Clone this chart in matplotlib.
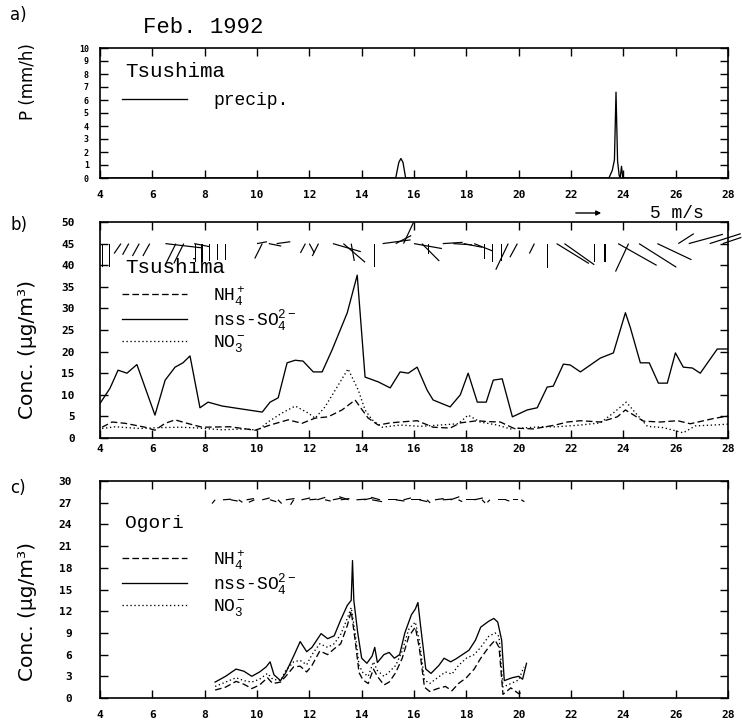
import matplotlib
matplotlib.use("Agg")
import matplotlib.pyplot as plt

plt.rcParams['mathtext.fontset'] = 'custom'
plt.rcParams['mathtext.rm'] = 'Liberation Mono'
plt.rcParams['mathtext.it'] = 'Liberation Mono'

# ---------------- data ----------------
day_ticks = [4, 6, 8, 10, 12, 14, 16, 18, 20, 22, 24, 26, 28]

# a) precipitation at Tsushima (mm/h)
precip_day = [4.0, 15.3, 15.42, 15.5, 15.58, 15.68, 23.45, 23.58, 23.66, 23.72, 23.78, 23.84, 23.88, 23.93, 23.98, 28.0]
precip_val = [0, 0, 1.2, 1.5, 1.2, 0, 0, 0.6, 1.4, 6.6, 1.3, 0.2, 0, 0.9, 0, 0]

# b) Tsushima concentrations (ug/m3)
tsu_so4_day = [4.0, 4.38, 4.69, 5.03, 5.41, 6.10, 6.49, 6.87, 7.17, 7.44, 7.82, 8.13, 8.67, 9.43, 10.2,
               10.5, 10.81, 11.15, 11.46, 11.76, 12.15, 12.49, 12.87, 13.45, 13.83, 14.13, 14.63, 15.09,
               15.47, 15.78, 16.12, 16.5, 16.73, 17.38, 17.77, 18.07, 18.42, 18.76, 19.03, 19.37, 19.76,
               20.33, 20.71, 21.09, 21.32, 21.71, 21.97, 22.36, 23.12, 23.62, 24.08, 24.27, 24.65, 24.99,
               25.34, 25.68, 25.99, 26.29, 26.64, 26.94, 27.59, 28.0]
tsu_so4 = [8, 11.5, 15.7, 15, 17, 5.3, 13.4, 16.4, 17.4, 19, 7, 8.3, 7.4, 6.7, 6,
           8.3, 9.3, 17.4, 18, 17.8, 15.3, 15.3, 20.4, 29, 37.7, 14.1, 13, 11.6,
           15.3, 15, 16.4, 11.1, 8.8, 7.2, 10, 15, 8.3, 8.3, 13.4, 13.7, 4.9,
           6.5, 7, 11.8, 12, 17.1, 16.9, 15.3, 18.5, 19.7, 29, 25.5, 17.4, 17.4,
           12.7, 12.7, 19.7, 16.4, 16.2, 15, 20.6, 20.6]

tsu_nh4_day = [4.08, 4.46, 4.96, 5.72, 6.1, 6.49, 6.87, 7.33, 7.9, 8.97, 9.93, 10.5, 11.19, 11.72, 12.22,
               12.72, 13.25, 13.75, 14.02, 14.25, 14.63, 15.09, 15.47, 16.12, 16.73, 17.38, 17.77, 18.42,
               18.8, 19.3, 19.79, 20.56, 21.4, 21.86, 22.36, 23.12, 23.77, 24.08, 24.77, 25.41, 26.07,
               26.56, 27.44, 28.0]
tsu_nh4 = [2.5, 3.7, 3.4, 2.5, 1.8, 3.4, 4.2, 3.4, 2.5, 2.6, 1.8, 3.0, 4.2, 3.4, 4.6,
           4.9, 6.5, 8.8, 6.5, 4.6, 3.0, 3.5, 3.7, 4.0, 2.5, 2.3, 3.5, 4.0,
           3.8, 3.7, 2.3, 2.1, 3.0, 3.7, 4.0, 3.7, 4.9, 6.5, 3.9, 3.7, 4.0,
           3.3, 4.5, 5.1]

tsu_no3_day = [4.08, 4.57, 5.53, 6.29, 7.06, 7.82, 8.67, 9.55, 10.04, 10.42, 10.96, 11.46, 11.95, 12.22,
               12.6, 12.99, 13.48, 13.87, 14.13, 14.4, 14.78, 15.47, 16.24, 17.0, 17.69, 18.07, 18.53,
               19.18, 19.68, 20.83, 21.48, 22.36, 23.12, 23.62, 24.11, 24.54, 24.92, 25.53, 26.29,
               26.75, 27.44, 28.0]
tsu_no3 = [2.2, 2.6, 2.2, 2.4, 2.5, 2.3, 1.9, 2.1, 1.8, 3.7, 5.8, 7.4, 5.8, 4.6,
           7.2, 11.1, 16, 11.1, 6.5, 4.2, 2.5, 3.0, 2.7, 3.0, 3.3, 5.3, 3.7,
           3.0, 2.1, 2.6, 2.6, 3.0, 3.5, 5.8, 8.3, 5.3, 2.7, 2.4, 1.2,
           2.8, 3.0, 3.2]

# b) wind sticks at Tsushima (m/s)
wind_b_day = [4.1, 4.35, 4.8, 5.1, 5.5, 5.9, 6.5, 6.9, 7.2, 7.6, 7.65, 7.9, 8.2, 8.5, 8.8, 10.0, 10.2,
              10.45, 10.75, 11.85, 12.0, 12.35, 12.9, 13.3, 13.6, 14.5, 14.8, 15.3, 15.6, 16.0, 16.3,
              16.55, 17.1, 17.5, 17.9, 18.3, 18.7, 19.0, 19.35, 19.6, 19.95, 20.6, 21.1, 21.45, 21.75,
              22.9, 23.3, 23.8, 24.2, 24.6, 25.3, 26.1, 26.5, 27.3, 27.8]
wind_b_u = [0, 0, -1.1, -1.0, -1.1, -1.1, 6.0, -1.6, -1.6, 2.5, 0, 0, 0, 0, 0, 1.6, -1.2,
            2.0, 2.2, -0.8, 0.8, -1.0, 4.5, 3.5, 0.5, 0, 4.5, 2.5, 1.6, 4.5, 2.8,
            0, 3.2, 3.0, 3.0, 3.0, 0, 0, 0, -2.0, -1.2, -0.8, 0, 5.2, 4.8,
            0, 0, 6.2, -2.1, 6.0, 5.5, 2.5, 5.5, 5.0, 3.0]
wind_b_v = [-3.8, -3.8, -1.6, -1.8, -2.0, -2.0, -0.7, -3.2, -3.2, -0.5, -3.0, -3.0, -2.8, -2.6, -2.6, 0.3, -2.4,
            -0.4, 0.3, -1.5, -1.5, -2.0, -1.3, -3.0, -2.8, -3.7, 0.6, 1.3, 3.4, -0.8, -2.8,
            -1.6, 0.2, -0.2, -0.6, -1.2, -2.4, -3.0, -2.8, -4.2, -2.2, -1.6, -4.0, -3.2, -3.4,
            -3.0, -3.0, -3.5, -4.5, -3.8, -2.6, 1.6, 1.5, 1.6, 1.0]

# c) Ogori concentrations (ug/m3)
ogo_so4_day = [8.4, 8.8, 9.2, 9.5, 9.8, 10.1, 10.35, 10.5, 10.65, 10.9, 11.1, 11.4, 11.65, 11.9, 12.1,
               12.45, 12.7, 12.95, 13.2, 13.45, 13.6, 13.65, 13.7, 13.85, 14.0, 14.2, 14.4, 14.5, 14.6,
               14.85, 15.05, 15.25, 15.45, 15.65, 15.9, 16.05, 16.15, 16.25, 16.45, 16.65, 16.95, 17.15,
               17.4, 17.6, 17.85, 18.1, 18.35, 18.55, 18.85, 19.05, 19.2, 19.35, 19.45, 19.75, 20.0,
               20.15, 20.3]
ogo_so4 = [2.2, 3.0, 4.0, 3.7, 3.0, 3.6, 4.3, 5.0, 3.2, 2.4, 3.5, 5.8, 7.8, 6.4, 7.0,
           8.9, 8.2, 8.6, 10.8, 12.8, 13.5, 19.0, 13.5, 9.0, 5.5, 4.8, 5.8, 7.0, 4.9,
           6.0, 6.3, 5.5, 6.0, 9.0, 11.5, 12.3, 13.2, 10.0, 4.0, 3.4, 4.5, 5.5,
           5.0, 5.4, 6.0, 6.6, 8.0, 9.8, 10.6, 11.0, 10.5, 8.0, 2.4, 2.8, 3.0,
           2.6, 4.8]

ogo_nh4_day = [8.4, 8.8, 9.2, 9.5, 9.8, 10.1, 10.4, 10.6, 10.9, 11.1, 11.4, 11.65, 11.9, 12.1, 12.4,
               12.7, 12.95, 13.2, 13.45, 13.6, 13.75, 13.9, 14.05, 14.25, 14.45, 14.6, 14.85, 15.05,
               15.3, 15.55, 15.8, 16.05, 16.2, 16.4, 16.6, 16.9, 17.2, 17.45, 17.7, 18.0, 18.3, 18.55,
               18.85, 19.1, 19.25, 19.4, 19.7, 20.0, 20.15]
ogo_nh4 = [1.1, 1.5, 2.3, 1.9, 1.3, 1.8, 2.8, 2.0, 2.2, 3.0, 4.3, 4.4, 3.6, 4.5, 6.5,
           6.0, 6.8, 7.5, 10.0, 12.0, 8.0, 3.5, 2.5, 2.0, 4.0, 3.0, 1.8, 2.2,
           3.5, 5.5, 8.5, 9.8, 7.0, 1.5, 0.9, 1.3, 1.6, 1.0, 2.0, 2.8, 4.0, 5.5,
           7.0, 8.0, 7.0, 0.5, 1.4, 0.6, 0.8]

ogo_no3_day = [8.4, 8.8, 9.2, 9.5, 9.8, 10.1, 10.4, 10.6, 10.9, 11.1, 11.4, 11.65, 11.9, 12.1, 12.4,
               12.7, 12.95, 13.2, 13.45, 13.6, 13.75, 13.9, 14.05, 14.25, 14.45, 14.6, 14.85, 15.05,
               15.3, 15.55, 15.8, 16.05, 16.2, 16.4, 16.6, 16.9, 17.2, 17.45, 17.7, 18.0, 18.3, 18.55,
               18.85, 19.1, 19.25, 19.4, 19.7, 20.0, 20.2]
ogo_no3 = [1.6, 2.2, 2.8, 2.4, 2.2, 2.6, 3.4, 2.6, 2.4, 3.8, 5.0, 5.2, 4.6, 6.0, 7.5,
           7.0, 7.5, 8.8, 11.0, 12.5, 9.0, 4.5, 3.5, 3.0, 5.0, 3.8, 3.0, 3.6,
           4.5, 6.5, 9.5, 10.5, 8.0, 2.5, 2.0, 2.8, 3.6, 3.3, 4.5, 5.5, 6.0, 7.0,
           8.5, 9.0, 8.5, 1.5, 2.0, 2.5, 4.3]

# c) wind sticks at Ogori (m/s)
wind_c_day = [8.4, 8.7, 9.0, 9.3, 9.6, 9.9, 10.2, 10.5, 10.8, 11.1, 11.4, 11.7, 12.0, 12.3, 12.6, 12.9,
              13.2, 13.5, 13.8, 14.1, 14.4, 14.7, 15.0, 15.3, 15.6, 15.9, 16.2, 16.5, 16.8, 17.1,
              17.4, 17.7, 18.0, 18.3, 18.6, 18.9, 19.2, 19.5, 19.8, 20.1]
wind_c_u = [-0.5, 1.3, 1.1, 0.6, 1.2, -0.9, 1.2, 1.0, 0.6, 1.4, -0.5, 1.4, 1.2, 1.3, 0.9, 1.5,
            1.4, -1.5, 1.5, 1.3, 1.6, -1.4, 1.5, 1.4, 1.2, 1.5, 1.3, 0.5, 1.4, 1.5,
            1.4, 0.6, 1.5, 1.4, 0.5, -0.4, 1.3, 0.6, 0.8, 0.5]
wind_c_v = [-0.6, 0.1, -0.2, -0.4, 0.2, -0.4, 0.3, -0.3, -0.6, 0.2, -0.8, 0.3, 0.1, 0.4, -0.2, 0.3,
            0.2, 0.5, 0.1, 0.3, -0.3, 0.4, 0.0, -0.2, 0.3, 0.0, -0.3, -0.5, 0.2, 0.1,
            0.5, -0.3, 0.0, 0.3, -0.5, -0.4, 0.0, -0.2, 0.0, -0.3]

# ---------------- figure ----------------
W, H = 742, 724
fig = plt.figure(figsize=(W / 100, H / 100), dpi=100)
ax_a = fig.add_axes([100 / W, 1 - 178 / H, 628 / W, 130 / H])
ax_b = fig.add_axes([100 / W, 1 - 438 / H, 628 / W, 216 / H])
ax_c = fig.add_axes([100 / W, 1 - 698 / H, 628 / W, 217 / H])

txt_font = 'Liberation Mono'
lw = 0.95
nh4_style = dict(color='black', lw=lw, dashes=(5, 2.5))
so4_style = dict(color='black', lw=lw, ls='-')
no3_style = dict(color='black', lw=lw, dashes=(1, 2))


def style(ax, ylim, yticks, ypad, xpad, ysize):
    ax.set_xlim(4, 28)
    ax.set_ylim(*ylim)
    ax.set_xticks(day_ticks)
    ax.set_yticks(yticks)
    ax.tick_params(direction='in', top=True, right=True, length=6, width=1.0)
    ax.tick_params(axis='x', pad=xpad, labelsize=8)
    ax.tick_params(axis='y', pad=ypad, labelsize=ysize)
    for sp in ax.spines.values():
        sp.set_linewidth(1.2)
    for lab in ax.get_xticklabels() + ax.get_yticklabels():
        lab.set_fontfamily('DejaVu Sans Mono')
        lab.set_fontweight('bold')


def sticks(ax, days, base, u, v):
    ax.quiver(days, [base] * len(days), u, v, angles='uv', scale_units='inches', scale=16.1,
              pivot='tail', headwidth=0, headlength=0, headaxislength=0,
              units='dots', width=1.2, color='black', clip_on=False)


def legend(ax, top, size, spacing):
    ax.legend(loc='upper left', bbox_to_anchor=(0.035, top), frameon=False,
              handlelength=3.6, handletextpad=1.45, borderpad=0, borderaxespad=0,
              labelspacing=spacing, prop={'family': txt_font, 'size': size})


# a) precipitation
ax_a.plot(precip_day, precip_val, color='black', lw=lw, label='precip.')
style(ax_a, (0, 10), list(range(0, 11)), 8, 9, 6)
ax_a.set_ylabel('P (mm/h)', fontsize=12)
ax_a.yaxis.set_label_coords(-0.1, 0.74)
ax_a.text(0.04, 0.82, 'Tsushima', transform=ax_a.transAxes, fontsize=15, family=txt_font,
          ha='left', va='center')
legend(ax_a, 0.66, 13, 0.2)
ax_a.text(0.068, 1.08, 'Feb. 1992', transform=ax_a.transAxes, fontsize=16, family=txt_font,
          ha='left', va='bottom')

# b) Tsushima
ax_b.plot(tsu_nh4_day, tsu_nh4, label='NH$_4^+$', **nh4_style)
ax_b.plot(tsu_so4_day, tsu_so4, label='nss-SO$_4^{2-}$', **so4_style)
ax_b.plot(tsu_no3_day, tsu_no3, label='NO$_3^-$', **no3_style)
sticks(ax_b, wind_b_day, 45, wind_b_u, wind_b_v)
style(ax_b, (0, 50), list(range(0, 51, 5)), 18, 4, 8)
ax_b.set_ylabel('Conc. (μg/m³)', fontsize=14.5)
ax_b.yaxis.set_label_coords(-0.1, 0.41)
ax_b.text(0.04, (438 - 268) / 216, 'Tsushima', transform=ax_b.transAxes, fontsize=15,
          family=txt_font, ha='left', va='center')
legend(ax_b, (438 - 284) / 216, 13, 0.0)

# 5 m/s key arrow above panel b
ax_b.annotate('', xy=(604, H - 213), xytext=(573, H - 213), xycoords='figure pixels',
              textcoords='figure pixels',
              arrowprops=dict(arrowstyle='-|>', color='black', lw=1.0, mutation_scale=7))
fig.text(650 / W, 1 - 213 / H, '5 m/s', fontsize=13, family=txt_font, ha='left', va='center')

# c) Ogori
ax_c.plot(ogo_nh4_day, ogo_nh4, label='NH$_4^+$', **nh4_style)
ax_c.plot(ogo_so4_day, ogo_so4, label='nss-SO$_4^{2-}$', **so4_style)
ax_c.plot(ogo_no3_day, ogo_no3, label='NO$_3^-$', **no3_style)
sticks(ax_c, wind_c_day, 27.4, wind_c_u, wind_c_v)
style(ax_c, (0, 30), list(range(0, 31, 3)), 20, 9, 8)
ax_c.set_ylabel('Conc. (μg/m³)', fontsize=14.5)
ax_c.yaxis.set_label_coords(-0.1, 0.40)
ax_c.text(0.04, (698 - 523) / 217, 'Ogori', transform=ax_c.transAxes, fontsize=14,
          family=txt_font, ha='left', va='center')
legend(ax_c, (698 - 548) / 217, 13, 0.0)

# panel letters
for lab, ypix in [('a)', 15), ('b)', 225), ('c)', 488)]:
    fig.text(10 / W, 1 - ypix / H, lab, fontsize=12, family='DejaVu Sans', ha='left', va='center')

fig.savefig('out.png', dpi=100, facecolor='white')
